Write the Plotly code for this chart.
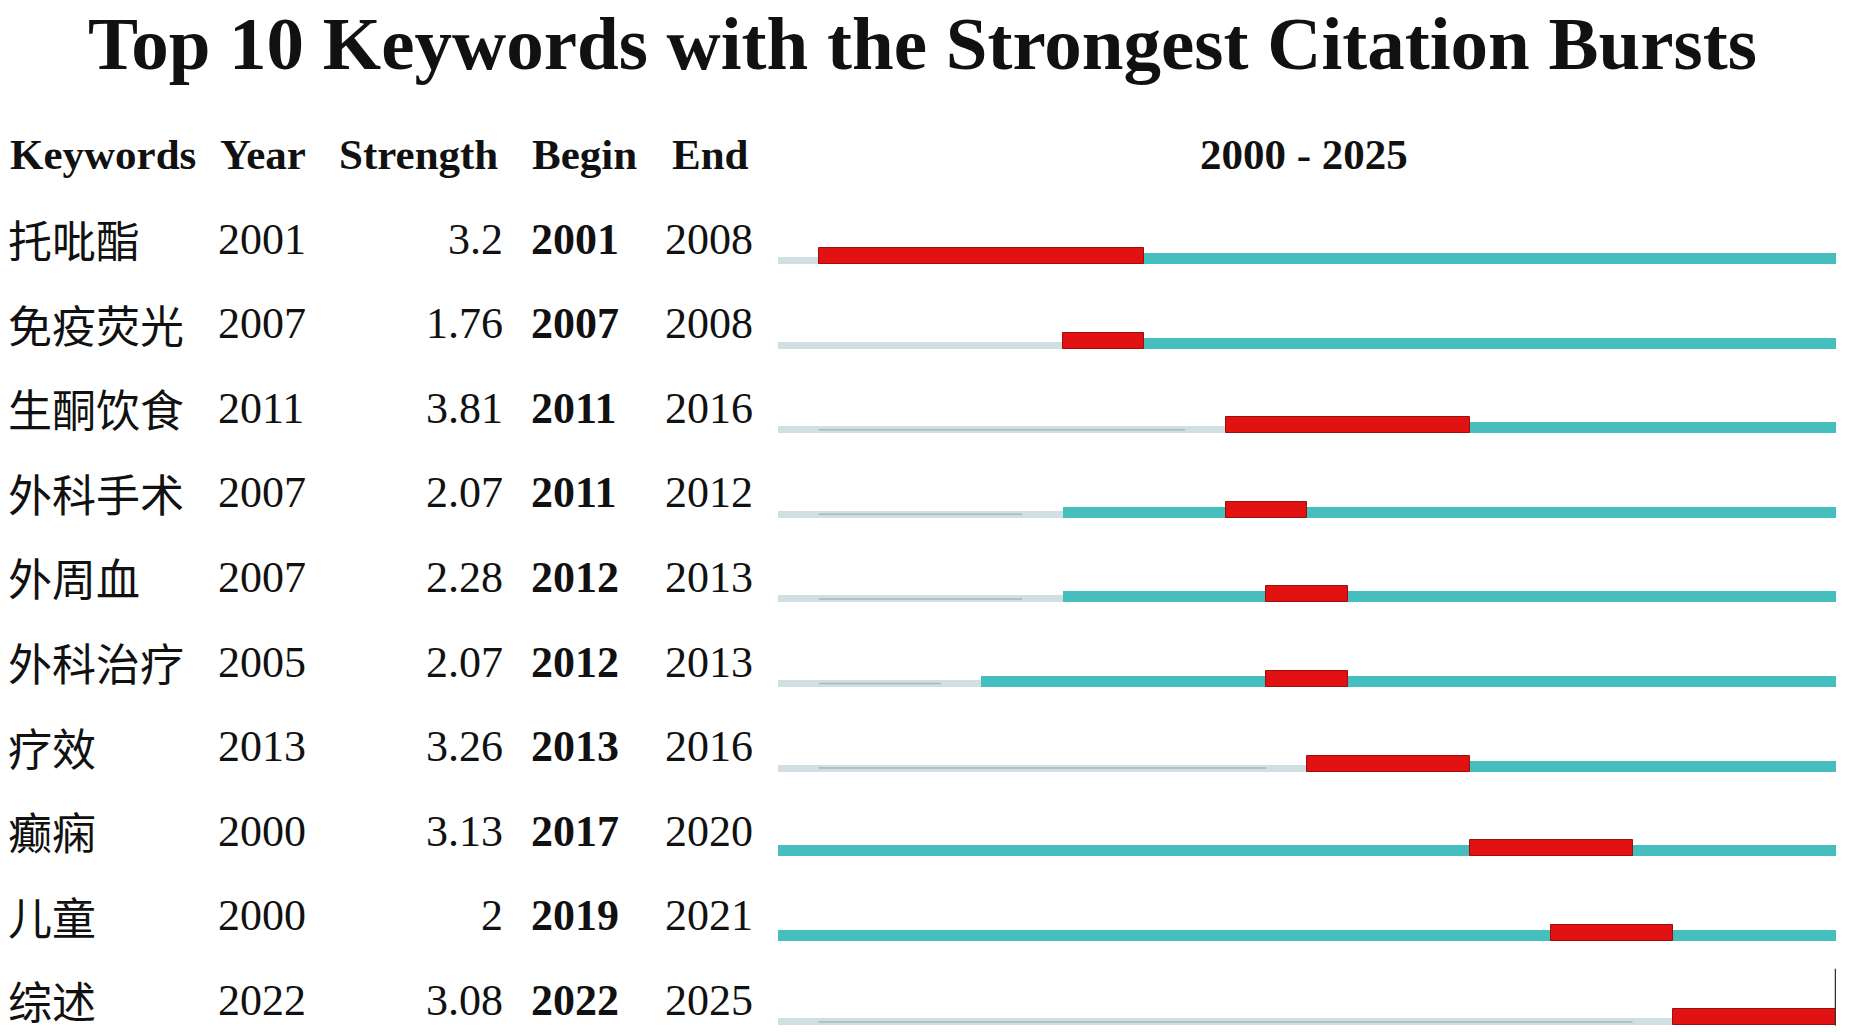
import plotly.graph_objects as go

# ---------------- data ----------------
keywords = ["托吡酯", "免疫荧光", "生酮饮食", "外科手术", "外周血",
            "外科治疗", "疗效", "癫痫", "儿童", "综述"]
years = [2001, 2007, 2011, 2007, 2007, 2005, 2013, 2000, 2000, 2022]
strengths = [3.2, 1.76, 3.81, 2.07, 2.28, 2.07, 3.26, 3.13, 2, 3.08]
begins = [2001, 2007, 2011, 2011, 2012, 2012, 2013, 2017, 2019, 2022]
ends = [2008, 2008, 2016, 2012, 2013, 2013, 2016, 2020, 2021, 2025]
headers = ["Keywords", "Year", "Strength", "Begin", "End"]
period_start, period_end = 2000, 2025
title = "Top 10 Keywords with the Strongest Citation Bursts"

# ---------------- style ----------------
W, H = 1850, 1032
RED = "#E31212"
RED_LINE = "#9A1010"
CYAN = "#47BEBE"
GRAY = "#D2DFE2"
GRAY_CORE = "#A6B9BE"
gray_core_rows = [2, 3, 4, 5, 6, 9]
SERIF = "Liberation Serif, Times New Roman, serif"
CJK = "Noto Sans CJK SC, sans-serif"

px_per_row = 84.6
bar_bottom0 = 264.0
y_top = -bar_bottom0 / px_per_row
y_bot = (H - bar_bottom0) / px_per_row

red_w = 16 / px_per_row
cyan_w = 11 / px_per_row
gray_w = 7 / px_per_row

rows = list(range(len(keywords)))
tl_end = period_end + 1

fig = go.Figure()

# gray: before the keyword appears
fig.add_trace(go.Bar(
    orientation="h", y=rows, base=[period_start] * len(rows),
    x=[y - period_start for y in years],
    width=gray_w, offset=-gray_w, marker=dict(color=GRAY, line_width=0),
    hoverinfo="skip", showlegend=False))
# thin darker core line in some gray segments
cx, cy = [], []
for i in gray_core_rows:
    cx += [period_start + 1.0, years[i] - 1.0, None]
    cy += [i - gray_w / 2, i - gray_w / 2, None]
fig.add_trace(go.Scatter(x=cx, y=cy, mode="lines",
                         line=dict(color=GRAY_CORE, width=1.5),
                         hoverinfo="skip", showlegend=False))
# cyan: from appearance to end of period
fig.add_trace(go.Bar(
    orientation="h", y=rows, base=years,
    x=[tl_end - y for y in years],
    width=cyan_w, offset=-cyan_w, marker=dict(color=CYAN, line_width=0),
    hoverinfo="skip", showlegend=False))
# red: burst
fig.add_trace(go.Bar(
    orientation="h", y=rows, base=begins,
    x=[e + 1 - b for b, e in zip(begins, ends)],
    width=red_w, offset=-red_w,
    marker=dict(color=RED, line=dict(color=RED_LINE, width=1)),
    hoverinfo="skip", showlegend=False))
# end marker on last row
last = rows[-1]
fig.add_trace(go.Scatter(
    x=[tl_end, tl_end], y=[last - 0.67, last], mode="lines",
    line=dict(color="#333333", width=2.5), cliponaxis=False,
    hoverinfo="skip", showlegend=False))

x0_px, x1_px = 778, 1836
fig.update_layout(
    width=W, height=H,
    margin=dict(l=0, r=0, t=0, b=0),
    paper_bgcolor="white", plot_bgcolor="white",
    barmode="overlay", bargap=0,
    xaxis=dict(domain=[x0_px / W, x1_px / W], range=[period_start, tl_end],
               visible=False, fixedrange=True),
    yaxis=dict(range=[y_bot, y_top], visible=False, fixedrange=True),
)

ann = []
# title
ann.append(dict(text=f"<b>{title}</b>", x=922 / W, y=1,
                xref="paper", yref="paper", xanchor="center", yanchor="top",
                showarrow=False, font=dict(family=SERIF, size=75, color="#111")))
# headers
hdr_x = [8, 218, 337, 530, 670]
for h, xp in zip(headers, hdr_x):
    ann.append(dict(text=f"<b>{h}</b>", x=xp / W, y=1 - 154 / H,
                    xref="paper", yref="paper", xanchor="left", yanchor="middle",
                    showarrow=False, font=dict(family=SERIF, size=43, color="#111")))
ann.append(dict(text=f"<b>{period_start} - {period_end}</b>", x=1304 / W, y=1 - 154 / H,
                xref="paper", yref="paper", xanchor="center", yanchor="middle",
                showarrow=False, font=dict(family=SERIF, size=43, color="#111")))

text_off = 25 / px_per_row
for i in rows:
    yy = i - text_off
    ann.append(dict(text=keywords[i], x=6 / W, y=yy, xref="paper", yref="y",
                    xanchor="left", yanchor="middle", showarrow=False,
                    font=dict(family=CJK, size=44, color="#111")))
    ann.append(dict(text=str(years[i]), x=216 / W, y=yy, xref="paper", yref="y",
                    xanchor="left", yanchor="middle", showarrow=False,
                    font=dict(family=SERIF, size=44, color="#111")))
    ann.append(dict(text=f"{strengths[i]:g}", x=505 / W, y=yy, xref="paper", yref="y",
                    xanchor="right", yanchor="middle", showarrow=False,
                    font=dict(family=SERIF, size=44, color="#111")))
    ann.append(dict(text=f"<b>{begins[i]}</b>", x=529 / W, y=yy, xref="paper", yref="y",
                    xanchor="left", yanchor="middle", showarrow=False,
                    font=dict(family=SERIF, size=44, color="#111")))
    ann.append(dict(text=str(ends[i]), x=663 / W, y=yy, xref="paper", yref="y",
                    xanchor="left", yanchor="middle", showarrow=False,
                    font=dict(family=SERIF, size=44, color="#111")))

fig.update_layout(annotations=ann)
fig.write_html("out.html", config={"displayModeBar": False},
               post_script="document.body.style.margin='0';")
